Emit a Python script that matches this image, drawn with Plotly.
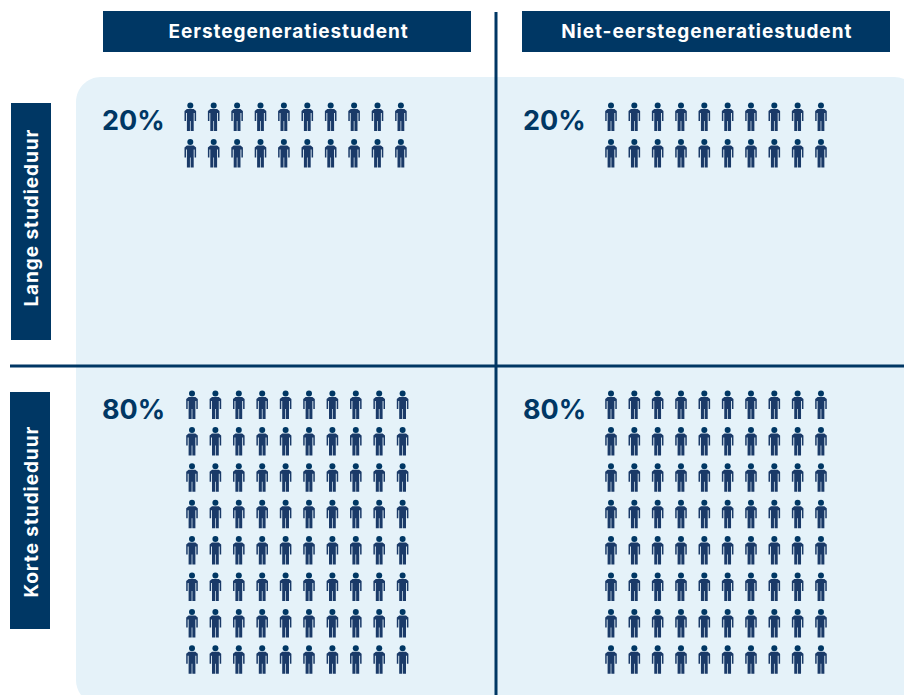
import plotly.graph_objects as go

col_labels = ["Eerstegeneratiestudent", "Niet-eerstegeneratiestudent"]
row_labels = ["Lange studieduur", "Korte studieduur"]
percentages = [[20, 20], [80, 80]]
per_row = 10
icon_value = 1  # one icon = one percent

NAVY = "#003764"
ICON = "#1a3a68"
PANEL = "#e5f2f9"

# cell layout: x0, dx, y0, dy for icon centres (pixels)
grid = {
    (0, 0): (190.3, 23.4, 118, 36.5),
    (0, 1): (611, 23.33, 118, 36.5),
    (1, 0): (192, 23.4, 406, 36.4),
    (1, 1): (611, 23.33, 406, 36.4),
}
pct_pos = {(0, 0): (133, 120.5), (0, 1): (554, 120.5), (1, 0): (133, 409.5), (1, 1): (554, 409.5)}

body = [(-5.8, -7), (-3.4, -9), (3.4, -9), (5.8, -7), (5.8, 3), (4.3, 3), (4.3, -5), (3.4, -5), (3.4, 13),
        (0.35, 13), (0.35, 3), (-0.35, 3), (-0.35, 13), (-3.4, 13), (-3.4, -5), (-4.3, -5), (-4.3, 3), (-5.8, 3), (-5.8, -7)]

bx, by, hx, hy = [], [], [], []
for (r, c), (x0, dx, y0, dy) in grid.items():
    n = percentages[r][c] // icon_value
    for i in range(n):
        cx = x0 + (i % per_row) * dx
        cy = y0 + (i // per_row) * dy
        bx += [cx + p[0] for p in body] + [None]
        by += [cy + p[1] for p in body] + [None]
        hx.append(cx)
        hy.append(cy - 12.5)

fig = go.Figure()
fig.add_trace(go.Scatter(x=bx, y=by, mode="lines", fill="toself", fillcolor=ICON,
                         line=dict(width=0, color=ICON), hoverinfo="skip", showlegend=False))
fig.add_trace(go.Scatter(x=hx, y=hy, mode="markers", marker=dict(size=6, color=NAVY),
                         hoverinfo="skip", showlegend=False))

k = 0.5523 * 25
panel = (f"M 76 102 C 76 {102-k} {101-k} 77 101 77 L 894 77 C {894+k} 77 919 {102-k} 919 102 "
         f"L 919 680 C 919 {680+k} {894+k} 705 894 705 L 101 705 C {101-k} 705 76 {680+k} 76 680 Z")
shapes = [
    dict(type="path", layer="below", line=dict(width=0), fillcolor=PANEL, path=panel),
    dict(type="rect", x0=103, x1=471, y0=11, y1=52, fillcolor=NAVY, line_width=0),
    dict(type="rect", x0=522, x1=890, y0=11, y1=52, fillcolor=NAVY, line_width=0),
    dict(type="rect", x0=11, x1=51, y0=103, y1=340, fillcolor=NAVY, line_width=0),
    dict(type="rect", x0=10, x1=50, y0=392, y1=629, fillcolor=NAVY, line_width=0),
    dict(type="line", x0=496, x1=496, y0=12, y1=695, line=dict(color=NAVY, width=3)),
    dict(type="line", x0=10, x1=904, y0=366, y1=366, line=dict(color=NAVY, width=3)),
]

ann = []
for t, x in zip(col_labels, [288, 707]):
    ann.append(dict(x=x, y=31.5, text=f"<b>{t}</b>", showarrow=False,
                    font=dict(family="Inter", size=19, color="white")))
for t, y in zip(row_labels, [218, 512]):
    ann.append(dict(x=31, y=y, text=f"<b>{t}</b>", textangle=-90, showarrow=False,
                    font=dict(family="Inter", size=19, color="white")))
for (r, c), (x, y) in pct_pos.items():
    ann.append(dict(x=x, y=y, text=f"<b>{percentages[r][c]}%</b>", showarrow=False,
                    font=dict(family="Inter", size=27, color=NAVY)))

fig.update_layout(
    width=904, height=695, margin=dict(l=0, r=0, t=0, b=0),
    paper_bgcolor="white", plot_bgcolor="white", shapes=shapes, annotations=ann,
    xaxis=dict(range=[0, 904], visible=False, fixedrange=True),
    yaxis=dict(range=[695, 0], visible=False, fixedrange=True),
)
post = """
document.body.style.margin='0';
document.documentElement.style.overflow='hidden';
document.querySelectorAll('.annotation-text').forEach(function(t){
  if(t.textContent.indexOf('%')<0){t.style.letterSpacing='0.95px';}
});
"""
fig.write_html("out.html", config=dict(displayModeBar=False), post_script=post)
